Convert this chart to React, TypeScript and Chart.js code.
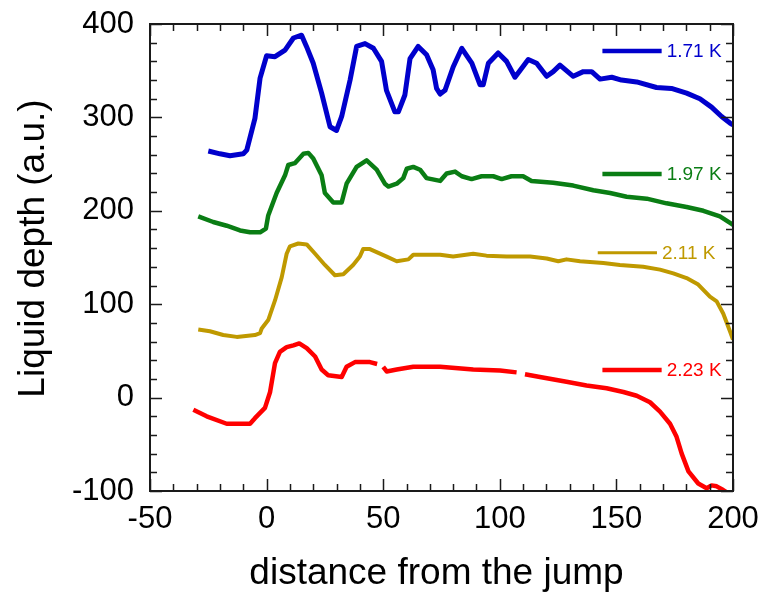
import { useEffect, useRef } from 'react';
import { Chart, registerables } from 'chart.js';

Chart.register(...registerables);

const FONT = '"Liberation Sans", Arial, Helvetica, sans-serif';

// Liquid depth profiles across the hydraulic jump, one per temperature
const labels = ['1.71 K', '1.97 K', '2.11 K', '2.23 K'];
const colors = ['#0000cc', '#0a7d14', '#bf9900', '#ff0000'];

const distance171 = [-25, -20, -15.7, -10, -8.5, -5, -2.8, 0, 3.6, 7.9, 11.5, 15, 17.1, 20, 23.6, 27.2, 30, 32.2, 35.8, 38.6, 42.2, 45.8, 49.3, 51.4, 55, 56.5, 59.3, 61.5, 65, 68.6, 71.4, 72.9, 74.4, 76.5, 80, 83.7, 88, 91.5, 92.9, 95.1, 99.3, 102.9, 106.5, 112.2, 115.8, 120.1, 122.9, 125.8, 131.5, 135.8, 139.4, 143, 148, 152.2, 158.7, 167.2, 173.6, 180.1, 185.8, 190.8, 195.1, 198.7, 200];
const depth171 = [264, 261, 259, 261, 265, 299, 342, 366, 365, 372, 385, 388, 376, 358, 326, 290, 286, 301, 340, 376, 379, 374, 360, 329, 306, 306, 324, 363, 376, 367, 351, 331, 325, 329, 354, 374, 358, 335, 335, 358, 369, 360, 343, 362, 358, 344, 349, 356, 344, 349, 349, 341, 343, 340, 338, 332, 331, 326, 320, 311, 301, 294, 292];

const distance197 = [-29.3, -22.9, -17.1, -11.4, -7.1, -2.8, -0.3, 0.7, 4.3, 7.9, 9.3, 12.1, 15.8, 17.9, 20, 23.6, 25, 28.6, 32.2, 34.3, 38.6, 42.9, 47.2, 50.7, 52.2, 55.8, 58.6, 60.1, 62.9, 65.8, 68.6, 74.4, 77.2, 80.8, 83.7, 87.9, 92.2, 97.2, 100.8, 105, 110, 113.6, 122.9, 131.5, 140.1, 147.3, 154.4, 163, 171.5, 180.1, 187.3, 194.4, 199.4, 200];
const depth197 = [194, 188, 184, 179, 177, 177, 181, 195, 219, 238, 249, 251, 261, 262, 256, 238, 219, 209, 209, 229, 247, 254, 244, 229, 226, 229, 235, 245, 247, 244, 235, 232, 240, 242, 237, 234, 237, 237, 234, 237, 237, 232, 230, 227, 222, 219, 215, 213, 208, 204, 200, 194, 186, 185];

const distance211 = [-29.3, -24.3, -18.6, -12.8, -5, -2.8, -2.1, 0.7, 3.6, 6.5, 8.6, 10, 13.6, 17.2, 20.8, 25, 29.3, 32.9, 37.1, 40, 41.4, 44.3, 47.9, 51.5, 55.8, 60.8, 62.9, 68.6, 74.4, 80, 88.6, 94.3, 102.9, 113, 120.1, 125.1, 128.6, 134.4, 144.4, 151.5, 161.5, 168.7, 174.4, 180.1, 185.1, 190.1, 193, 195.8, 198.7, 200];
const depth211 = [73, 71, 67, 65, 67, 69, 74, 83, 104, 129, 154, 162, 165, 164, 154, 142, 131, 132, 142, 151, 159, 159, 155, 151, 146, 148, 153, 153, 153, 151, 154, 152, 151, 151, 149, 146, 148, 146, 144, 142, 140, 137, 133, 128, 121, 108, 103, 90, 71, 62];

// null entries are the gaps in the measured trace
const distance223 = [-31.4, -25.7, -17.1, -7.1, -5, -0.7, 1.5, 3.6, 5.7, 8.6, 11.5, 14, 17.2, 20.8, 23.6, 26.4, 32.2, 34.3, 37.9, 44.3, 47.4, 48.7, 50, 51.5, 55.8, 62.9, 74.4, 88.6, 100.1, 107.2, 109, 110.8, 117.2, 128.6, 137.2, 145.8, 153, 158.7, 164.4, 168.7, 173, 175.8, 178, 180.9, 185.1, 188.7, 190.8, 193, 195.8, 197];
const depth223 = [-13, -20, -28, -28, -22, -11, 6, 37, 49, 54, 56, 58, 53, 44, 30, 24, 22, 33, 38, 38, 36, null, 33, 28, 30, 33, 33, 30, 29, 27, null, 25, 22, 17, 13, 10, 6, 2, -5, -15, -28, -42, -60, -79, -92, -97, -94, -95, -99, -101];

const xTicks = [-50, 0, 50, 100, 150, 200];
const yTicks = [-100, 0, 100, 200, 300, 400];

const xTitle = 'distance from the jump';
const yTitle = 'Liquid depth (a.u.)';

// key entries: the depth (data units) each key line sits at
const keyDepths = [371, 239.5, 155, 29.5];

const pair = (xs: number[], ys: (number | null)[]) => xs.map((x, i) => ({ x, y: ys[i] }));

const seriesX = [distance171, distance197, distance211, distance223];
const seriesY = [depth171, depth197, depth211, depth223];
const widths = [5, 4.5, 4, 4.5];

const frameAndKey = {
  id: 'frameAndKey',
  afterDatasetsDraw(chart: any) {
    const { ctx, chartArea: a, scales } = chart;
    const xs = scales.x;
    const ys = scales.y;
    ctx.save();
    ctx.strokeStyle = '#1a1a1a';
    ctx.lineWidth = 2;
    ctx.strokeRect(a.left, a.top, a.right - a.left, a.bottom - a.top);
    ctx.lineWidth = 1.5;
    ctx.beginPath();
    for (let v = -50; v <= 200; v += 10) {
      const px = Math.round(xs.getPixelForValue(v)) + 0.5;
      const len = v % 50 === 0 ? 12 : 7;
      ctx.moveTo(px, a.bottom);
      ctx.lineTo(px, a.bottom - len);
      ctx.moveTo(px, a.top);
      ctx.lineTo(px, a.top + len);
    }
    for (let v = -100; v <= 400; v += 20) {
      const py = Math.round(ys.getPixelForValue(v)) + 0.5;
      const len = v % 100 === 0 ? 12 : 7;
      ctx.moveTo(a.left, py);
      ctx.lineTo(a.left + len, py);
      ctx.moveTo(a.right, py);
      ctx.lineTo(a.right - len, py);
    }
    ctx.stroke();

    // key: short line plus coloured label for each trace
    chart.data.datasets.forEach((ds: any, i: number) => {
      const py = ys.getPixelForValue(keyDepths[i]);
      const x0 = xs.getPixelForValue(i === 2 ? 142 : 144);
      const x1 = xs.getPixelForValue(i === 2 ? 167.4 : 169.4);
      ctx.strokeStyle = ds.borderColor;
      ctx.lineWidth = i === 2 ? 3 : 4.5;
      ctx.beginPath();
      ctx.moveTo(x0, py);
      ctx.lineTo(x1, py);
      ctx.stroke();
      ctx.fillStyle = ds.borderColor;
      ctx.font = `19px ${FONT}`;
      ctx.textAlign = 'left';
      ctx.textBaseline = 'middle';
      ctx.fillText(ds.label, x1 + 5, py + 1);
    });

    // axis titles
    ctx.fillStyle = '#000';
    ctx.font = `37px ${FONT}`;
    ctx.textAlign = 'center';
    ctx.textBaseline = 'alphabetic';
    ctx.fillText(xTitle, (a.left + a.right) / 2 - 5, 584);
    ctx.translate(44, (a.top + a.bottom) / 2 - 9);
    ctx.rotate(-Math.PI / 2);
    ctx.fillText(yTitle, 0, 0);
    ctx.restore();
  },
};

export default function App() {
  const ref = useRef<HTMLCanvasElement>(null);

  useEffect(() => {
    if (!ref.current) return;
    const chart = new Chart(ref.current, {
      type: 'line',
      data: {
        datasets: labels.map((label, i) => ({
          label,
          data: pair(seriesX[i], seriesY[i]),
          borderColor: colors[i],
          backgroundColor: colors[i],
          borderWidth: widths[i],
          pointRadius: 0,
          tension: 0,
          spanGaps: false,
          borderJoinStyle: 'round' as const,
          borderCapStyle: 'butt' as const,
        })),
      },
      options: {
        animation: false,
        responsive: true,
        maintainAspectRatio: false,
        layout: { padding: { top: 24, right: 28, left: 0, bottom: 0 } },
        plugins: { legend: { display: false }, tooltip: { enabled: false } },
        scales: {
          x: {
            type: 'linear',
            min: -50,
            max: 200,
            afterBuildTicks: (s: any) => { s.ticks = xTicks.map((value) => ({ value })); },
            afterFit: (s: any) => {
              s.height = 103;
              s.paddingLeft = 0;
              s.paddingRight = 0;
            },
            grid: { display: false, drawTicks: false },
            border: { display: false },
            ticks: { color: '#000', font: { family: FONT, size: 31 }, padding: 10, maxRotation: 0 },
          },
          y: {
            type: 'linear',
            min: -100,
            max: 400,
            afterBuildTicks: (s: any) => { s.ticks = yTicks.map((value) => ({ value })); },
            afterFit: (s: any) => {
              s.width = 150;
              s.paddingTop = 0;
              s.paddingBottom = 0;
            },
            grid: { display: false, drawTicks: false },
            border: { display: false },
            ticks: { color: '#000', font: { family: FONT, size: 31 }, padding: 16 },
          },
        },
      },
      plugins: [frameAndKey],
    });
    return () => chart.destroy();
  }, []);

  return (
    <div style={{ position: 'fixed', left: 0, top: 0, width: 761, height: 594, background: '#fff' }}>
      <canvas ref={ref} />
    </div>
  );
}
